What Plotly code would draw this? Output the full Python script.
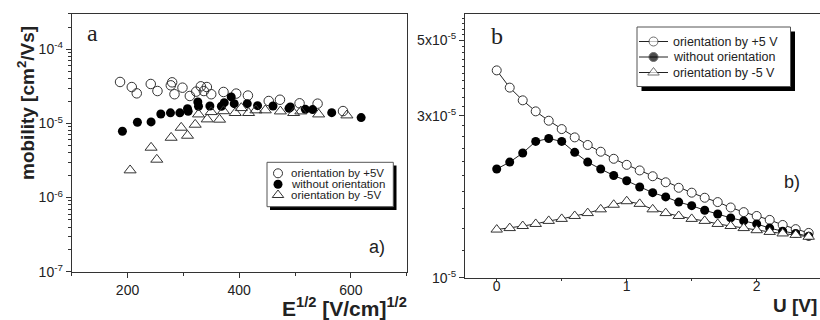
import plotly.graph_objects as go

# ---------------- data: panel a ----------------
E_pos = [186.6, 207.6, 216.5, 241.6, 253.6, 277.5, 279.9, 284.1, 298.4, 311.6, 323.0, 331.3,
         336.7, 342.1, 349.9, 371.9, 394.6, 415.6, 452.9, 473.0, 508.1, 540.4, 585.9]
mu_pos = [3.63e-5, 3.10e-5, 2.55e-5, 3.41e-5, 2.74e-5, 3.27e-5, 3.59e-5, 2.48e-5, 3.04e-5, 2.35e-5,
          2.69e-5, 3.17e-5, 2.74e-5, 3.10e-5, 2.48e-5, 2.66e-5, 2.53e-5, 2.38e-5, 2.01e-5, 2.09e-5,
          1.87e-5, 1.85e-5, 1.47e-5]

E_zero = [190.8, 217.7, 242.2, 259.6, 276.9, 293.7, 307.4, 308.6, 325.9, 327.1, 347.5, 368.1,
          373.2, 385.7, 391.1, 414.4, 432.9, 460.5, 489.2, 491.6, 518.5, 531.6, 565.7, 618.4]
mu_zero = [7.85e-6, 1.04e-5, 1.05e-5, 1.34e-5, 1.39e-5, 1.39e-5, 1.58e-5, 1.46e-5, 1.95e-5, 1.71e-5,
           1.72e-5, 1.71e-5, 1.91e-5, 2.28e-5, 1.85e-5, 1.85e-5, 1.74e-5, 1.72e-5, 1.60e-5, 1.67e-5,
           1.55e-5, 1.54e-5, 1.40e-5, 1.20e-5]

E_neg = [204.6, 242.2, 252.4, 278.1, 296.1, 307.4, 321.2, 327.1, 342.7, 349.9, 364.8, 371.9,
         392.9, 403.7, 416.8, 430.0, 446.7, 473.7, 497.5, 510.4, 542.3, 592.9]
mu_neg = [2.34e-6, 4.73e-6, 3.26e-6, 6.44e-6, 8.80e-6, 6.86e-6, 9.66e-6, 1.33e-5, 1.14e-5, 1.43e-5,
          1.13e-5, 1.47e-5, 1.39e-5, 1.62e-5, 1.39e-5, 1.51e-5, 1.51e-5, 1.46e-5, 1.39e-5, 1.46e-5,
          1.33e-5, 1.29e-5]

# ---------------- data: panel b ----------------
U = [0.0, 0.1, 0.2, 0.3, 0.4, 0.5, 0.6, 0.7, 0.8, 0.9, 1.0, 1.1, 1.2, 1.3, 1.4, 1.5, 1.6, 1.7,
     1.8, 1.9, 2.0, 2.1, 2.2, 2.3, 2.4]
mub_pos = [4.08e-5, 3.63e-5, 3.33e-5, 3.09e-5, 2.90e-5, 2.74e-5, 2.59e-5, 2.46e-5, 2.35e-5, 2.24e-5,
           2.15e-5, 2.07e-5, 1.99e-5, 1.91e-5, 1.84e-5, 1.78e-5, 1.72e-5, 1.67e-5, 1.61e-5, 1.56e-5,
           1.52e-5, 1.48e-5, 1.43e-5, 1.39e-5, 1.355e-5]
mub_zero = [2.09e-5, 2.19e-5, 2.33e-5, 2.52e-5, 2.57e-5, 2.52e-5, 2.34e-5, 2.19e-5, 2.09e-5, 2.00e-5,
            1.93e-5, 1.85e-5, 1.78e-5, 1.73e-5, 1.67e-5, 1.63e-5, 1.58e-5, 1.54e-5, 1.50e-5, 1.47e-5,
            1.44e-5, 1.40e-5, 1.37e-5, 1.35e-5, 1.325e-5]
mub_neg = [1.386e-5, 1.40e-5, 1.42e-5, 1.44e-5, 1.47e-5, 1.49e-5, 1.52e-5, 1.55e-5, 1.59e-5, 1.64e-5,
           1.68e-5, 1.65e-5, 1.59e-5, 1.55e-5, 1.52e-5, 1.49e-5, 1.47e-5, 1.44e-5, 1.42e-5, 1.40e-5,
           1.38e-5, 1.364e-5, 1.35e-5, 1.337e-5, 1.32e-5]

# tick labels
a_xticks = [200, 400, 600]
a_yticks = [1e-7, 1e-6, 1e-5, 1e-4]
a_yticktext = ["10<sup>-7</sup>", "10<sup>-6</sup>", "10<sup>-5</sup>", "10<sup>-4</sup>"]
b_xticks = [0, 1, 2]
b_yticks = [1e-5, 3e-5, 5e-5]
b_yticktext = ["10<sup>-5</sup>", "3x10<sup>-5</sup>", "5x10<sup>-5</sup>"]

legend_a = ["orientation by +5V", "without orientation", "orientation by -5V"]
legend_b = ["orientation by +5 V", "without orientation", "orientation by -5 V"]

# ---------------- layout geometry (page pixels; body margin removed below) ----------------
VW, VH = 820, 320
OX, OY = 0, 0
W, H = VW - OX, VH - OY


def dx(X0, X1):
    return [(X0 - OX) / W, min(1.0, (X1 - OX) / W)]


def dy(Ytop, Ybot):
    return [(VH - Ybot) / H, (VH - Ytop) / H]


AX = "#333333"
MK = "#333333"
FONT = "Liberation Sans, Arial, sans-serif"
SERIF = "Liberation Serif, Times New Roman, serif"

a_minor_y = [k * 10.0 ** e for e in range(-7, -3) for k in range(2, 10)] + [2e-4, 3e-4]
b_minor_y = [v * 1e-6 for v in range(12, 60, 2) if v not in (30, 50)]

fig = go.Figure()

# panel a
fig.add_trace(go.Scatter(x=E_pos, y=mu_pos, mode="markers", xaxis="x", yaxis="y",
                         marker=dict(symbol="circle-open", size=9.5, color=MK, line=dict(width=1, color=MK)),
                         showlegend=False))
fig.add_trace(go.Scatter(x=E_zero, y=mu_zero, mode="markers", xaxis="x", yaxis="y",
                         marker=dict(symbol="circle", size=9, color="black", line=dict(width=0)),
                         showlegend=False))
fig.add_trace(go.Scatter(x=E_neg, y=mu_neg, mode="markers", xaxis="x", yaxis="y",
                         marker=dict(symbol="triangle-up-open", size=10.5, color=MK, line=dict(width=1, color=MK)),
                         showlegend=False))

# panel b
fig.add_trace(go.Scatter(x=U, y=mub_pos, mode="lines+markers", xaxis="x2", yaxis="y2",
                         line=dict(color="#222", width=1),
                         marker=dict(symbol="circle", size=9, color="white", line=dict(width=1, color=MK)),
                         showlegend=False))
fig.add_trace(go.Scatter(x=U, y=mub_zero, mode="lines+markers", xaxis="x2", yaxis="y2",
                         line=dict(color="#222", width=1),
                         marker=dict(symbol="circle", size=9, color="black", line=dict(width=0)),
                         showlegend=False))
fig.add_trace(go.Scatter(x=U, y=mub_neg, mode="lines+markers", xaxis="x2", yaxis="y2",
                         line=dict(color="#222", width=1),
                         marker=dict(symbol="triangle-up", size=10, color="white", line=dict(width=1, color=MK)),
                         showlegend=False))

# ---------------- legend samples (overlay axes in page pixels) ----------------
la_x, la_rows = 278, [173.3, 184.3, 195.0]
lb_x0, lb_x1, lb_rows = 639, 668, [41.5, 57.0, 72.5]
fig.add_trace(go.Scatter(x=[la_x], y=[la_rows[0]], mode="markers", xaxis="x3", yaxis="y3",
                         marker=dict(symbol="circle-open", size=9, color=MK, line=dict(width=1, color=MK)),
                         showlegend=False, hoverinfo="skip"))
fig.add_trace(go.Scatter(x=[la_x], y=[la_rows[1]], mode="markers", xaxis="x3", yaxis="y3",
                         marker=dict(symbol="circle", size=9, color="black"),
                         showlegend=False, hoverinfo="skip"))
fig.add_trace(go.Scatter(x=[la_x], y=[la_rows[2]], mode="markers", xaxis="x3", yaxis="y3",
                         marker=dict(symbol="triangle-up-open", size=10, color=MK, line=dict(width=1, color=MK)),
                         showlegend=False, hoverinfo="skip"))
b_syms = [("circle", "white", 9), ("circle", "black", 9), ("triangle-up", "white", 10)]
for (sym, fc, sz), yy in zip(b_syms, lb_rows):
    fig.add_trace(go.Scatter(x=[lb_x0, (lb_x0 + lb_x1) / 2, lb_x1], y=[yy, yy, yy],
                             mode="lines+markers", xaxis="x3", yaxis="y3",
                             line=dict(color="#222", width=1),
                             marker=dict(symbol=sym, size=[0, sz, 0], color=fc,
                                         line=dict(width=[0, 1, 0], color=MK)),
                             showlegend=False, hoverinfo="skip"))

shapes = []
shapes.append(dict(type="rect", xref="x3", yref="y3", x0=270, x1=396.5, y0=165.5, y1=210,
                   fillcolor="black", line=dict(width=0), layer="below"))
shapes.append(dict(type="rect", xref="x3", yref="y3", x0=267, x1=393.3, y0=162.3, y1=206.7,
                   fillcolor="white", line=dict(color="#555", width=1), layer="below"))
shapes.append(dict(type="rect", xref="x3", yref="y3", x0=641.5, x1=795, y0=31.5, y1=91,
                   fillcolor="black", line=dict(width=0), layer="below"))
shapes.append(dict(type="rect", xref="x3", yref="y3", x0=637, x1=790.5, y0=27, y1=86.5,
                   fillcolor="white", line=dict(color="#555", width=1), layer="below"))

annotations = []
for txt, yy in zip(legend_a, la_rows):
    annotations.append(dict(text=txt, x=289, y=yy, xref="x3", yref="y3", xanchor="left",
                            yanchor="middle", showarrow=False, font=dict(family=FONT, size=11.5, color="#222")))
for txt, yy in zip(legend_b, lb_rows):
    annotations.append(dict(text=txt, x=671, y=yy, xref="x3", yref="y3", xanchor="left",
                            yanchor="middle", showarrow=False, font=dict(family=FONT, size=12.5, color="#222")))

annotations += [
    dict(text="a", x=92.5, y=32.5, xref="x3", yref="y3", showarrow=False,
         font=dict(family=SERIF, size=24, color="#222")),
    dict(text="b", x=496.7, y=36, xref="x3", yref="y3", showarrow=False,
         font=dict(family=SERIF, size=24, color="#222")),
    dict(text="a)", x=376.5, y=247, xref="x3", yref="y3", showarrow=False,
         font=dict(family=FONT, size=18, color="#222")),
    dict(text="b)", x=792, y=181.7, xref="x3", yref="y3", showarrow=False,
         font=dict(family=FONT, size=18, color="#222")),
    dict(text="<b>mobility [cm<sup>2</sup>/Vs]</b>", x=26, y=103, xref="x3", yref="y3",
         showarrow=False, textangle=-90, font=dict(family=FONT, size=19, color="#222")),
    dict(text="<b>E<sup>1/2</sup> [V/cm]<sup>1/2</sup></b>", x=409, y=306.5, xref="x3", yref="y3",
         xanchor="right", yanchor="middle", showarrow=False, font=dict(family=FONT, size=21, color="#222")),
    dict(text="<b>U [V]</b>", x=819, y=305, xref="x3", yref="y3",
         xanchor="right", yanchor="middle", showarrow=False, font=dict(family=FONT, size=19, color="#222")),
]

common = dict(showgrid=False, zeroline=False, showline=True, linecolor=AX, linewidth=1,
              ticks="outside", tickcolor=AX, tickwidth=1, automargin=False)
xfont = dict(family=FONT, size=14, color="#222")
yfont = dict(family=FONT, size=14, color="#222")

fig.update_layout(
    width=W, height=H, autosize=False,
    margin=dict(l=0, r=0, t=0, b=0, pad=0),
    paper_bgcolor="white", plot_bgcolor="rgba(0,0,0,0)",
    showlegend=False,
    xaxis=dict(domain=dx(71.7, 406.7), anchor="y", range=[100, 700], tickmode="array",
               tickvals=a_xticks, mirror=True, tickfont=xfont, ticklen=5,
               minor=dict(tickmode="array", tickvals=[100, 300, 500, 700], ticks="outside",
                          ticklen=3, tickcolor=AX), **common),
    yaxis=dict(domain=dy(14, 271.7), anchor="x", type="log", range=[-7, -3.523],
               tickmode="array", tickvals=a_yticks, ticktext=a_yticktext, mirror=True, tickfont=yfont,
               ticklen=5,
               minor=dict(tickmode="array", tickvals=a_minor_y, ticks="outside", ticklen=2.5,
                          tickcolor=AX), **common),
    xaxis2=dict(domain=dx(465, 820), anchor="y2", range=[-0.244, 2.487], tickmode="array",
                tickvals=b_xticks, mirror=True, tickfont=xfont, ticklen=3, ticklabelstandoff=-8,
                minor=dict(tickmode="array", tickvals=[0.5, 1.5], ticks="outside", ticklen=2,
                           tickcolor=AX), **common),
    yaxis2=dict(domain=dy(13.5, 277.7), anchor="x2", type="log",
                range=[-5, -4.2218], tickmode="array", tickvals=b_yticks, ticktext=b_yticktext,
                mirror=False, tickfont=yfont, ticklen=5,
                minor=dict(tickmode="array", tickvals=b_minor_y, ticks="outside", ticklen=2.5,
                           tickcolor=AX), **common),
    xaxis3=dict(domain=[0, 1], anchor="y3", range=[OX, VW], visible=False, fixedrange=True),
    yaxis3=dict(domain=[0, 1], anchor="x3", range=[VH, OY], visible=False, fixedrange=True),
    shapes=shapes,
    annotations=annotations,
)

fig.write_html("out.html", config={"displayModeBar": False},
               post_script="document.body.style.margin='0px';document.body.style.overflow='hidden';")
